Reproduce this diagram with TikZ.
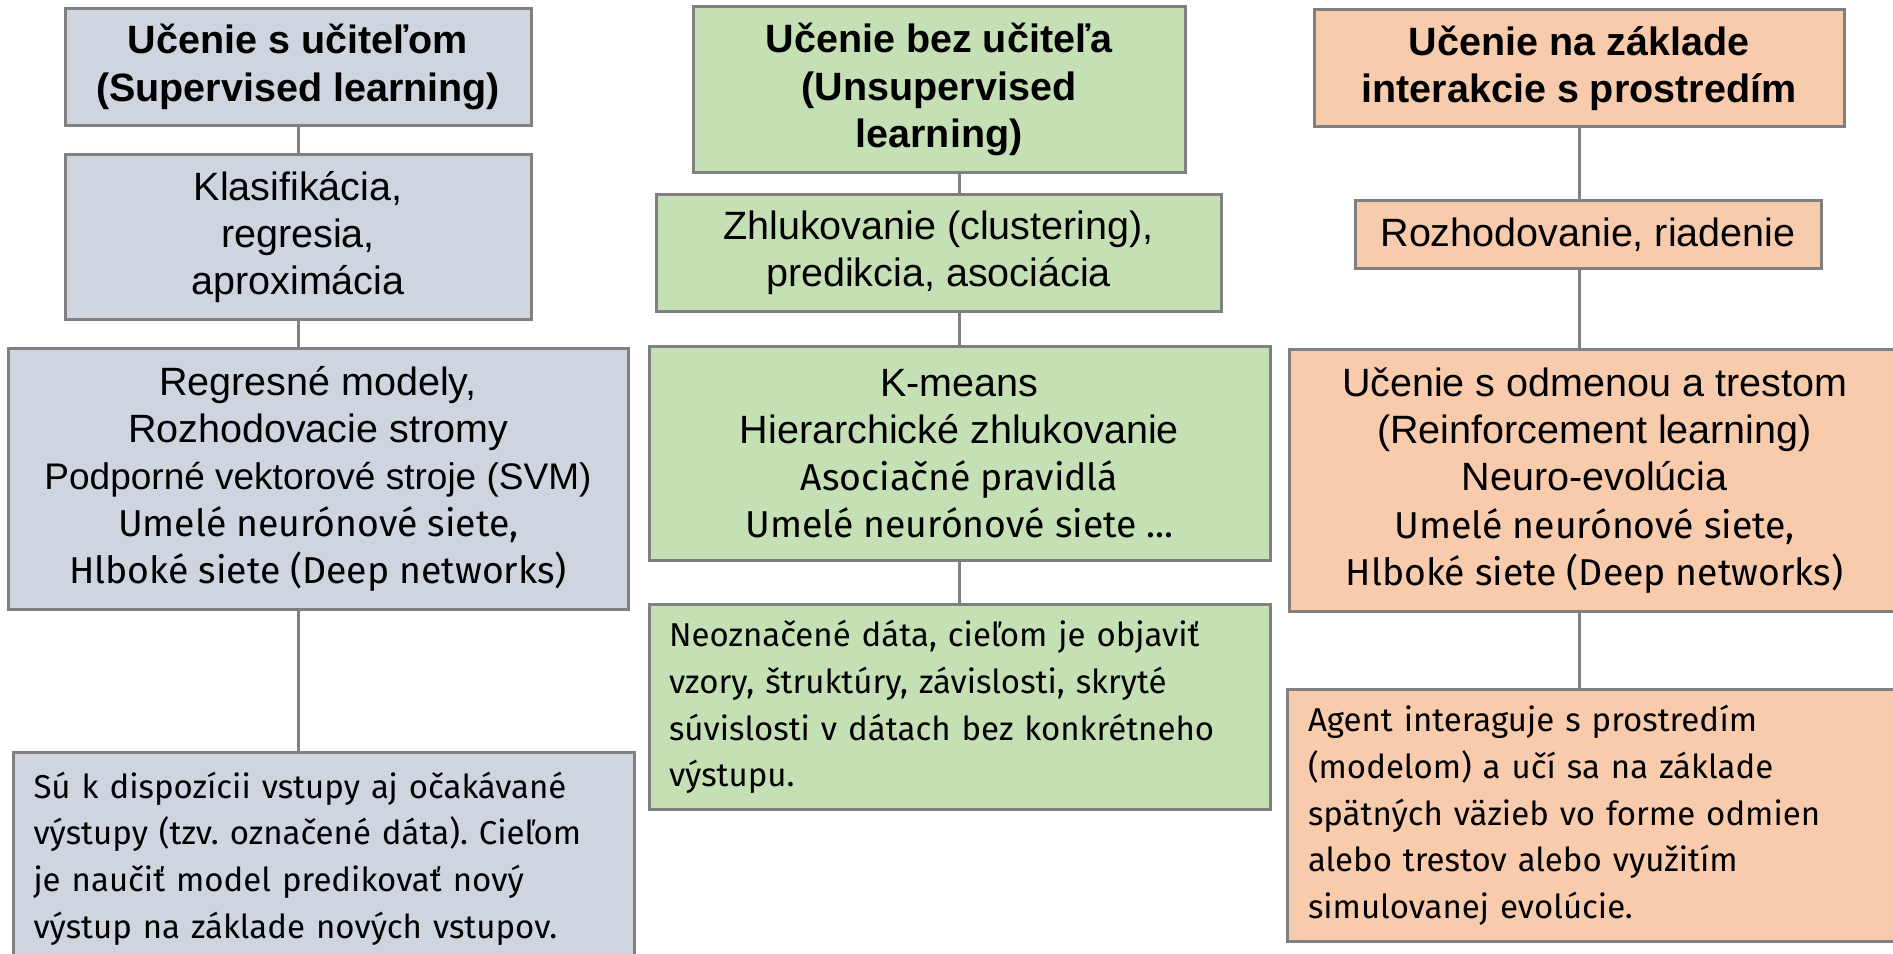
\documentclass[tikz,border=0pt]{standalone}
\usepackage{fontspec}
\setmainfont{Liberation Sans}
\newfontfamily\aptosfont{Fira Sans}
\usetikzlibrary{positioning}
\definecolor{supfill}{RGB}{206,213,223}
\definecolor{unsfill}{RGB}{197,224,180}
\definecolor{intfill}{RGB}{248,203,173}
\definecolor{linegray}{RGB}{128,128,128}
\newcommand{\svmsize}{\fontsize{18.5}{23.6}\selectfont}
\newcommand{\aptline}{\aptosfont\fontsize{18.7}{23.6}\selectfont}
\frenchspacing

\begin{document}
\begin{tikzpicture}[x=0.5pt, y=-0.5pt, font=\fontsize{19.75}{23.6}\selectfont,
  box/.style={rectangle, draw=linegray, line width=1.5pt, inner sep=0pt, align=center, anchor=north},
  headbox/.style={box, font=\fontsize{19.75}{23.6}\selectfont\bfseries},
  descbox/.style={box, align=left, font=\aptosfont\fontsize{16.5}{23.35}\selectfont},
  link/.style={draw=linegray, line width=1.5pt}]
  \useasboundingbox (0,0) rectangle (1893,953);

  % ucenie s ucitelom
  \node[headbox, fill=supfill, minimum width=233pt, minimum height=58.5pt] (sup) at (298,7) {Učenie s učiteľom\\(Supervised learning)};
  \node[box, fill=supfill, minimum width=233pt, minimum height=82.5pt] (supTask) at (298,153) {Klasifikácia,\\regresia,\\aproximácia};
  \node[box, fill=supfill, minimum width=310pt, minimum height=130.5pt] (supMethods) at (318,347) {Regresné modely,\\Rozhodovacie stromy\\{\svmsize Podporné vektorové stroje (SVM)}\\{\aptline Umelé neurónové siete,}\\{\aptline Hlboké siete (Deep networks)}};
  \node[descbox, fill=supfill, minimum width=310.5pt, minimum height=106pt, text width=290.5pt] (supDesc) at (324,751) {Sú k dispozícii vstupy aj očakávané\\\mbox{výstupy (tzv. označené dáta). Cieľom}\\je naučiť model predikovať nový\\výstup na základe nových vstupov.};

  % ucenie bez ucitela
  \node[headbox, fill=unsfill, minimum width=246pt, minimum height=83pt] (uns) at (939,5) {Učenie bez učiteľa\\(Unsupervised\\learning)};
  \node[box, fill=unsfill, minimum width=282.5pt, minimum height=58.5pt] (unsTask) at (938.5,193) {Zhlukovanie (clustering),\\predikcia, asociácia};
  \node[box, fill=unsfill, minimum width=310.5pt, minimum height=107pt] (unsMethods) at (959.5,345) {K-means\\Hierarchické zhlukovanie\\{\aptline Asociačné pravidlá}\\{\aptline Umelé neurónové siete ...}};
  \node[descbox, fill=unsfill, minimum width=310.5pt, minimum height=102.5pt, text width=290.5pt] (unsDesc) at (959.5,603) {Neoznačené dáta, cieľom je objaviť\\vzory, štruktúry, závislosti, skryté\\súvislosti v dátach bez konkrétneho\\výstupu.};

  % interakcia s prostredim
  \node[headbox, fill=intfill, minimum width=265pt, minimum height=58.5pt] (int) at (1579,8) {Učenie na základe\\interakcie s prostredím};
  \node[box, fill=intfill, minimum width=233pt, minimum height=34pt] (intTask) at (1588,199) {Rozhodovanie, riadenie};
  \node[box, fill=intfill, minimum width=305.5pt, minimum height=131pt] (intMethods) at (1594.5,348) {Učenie s odmenou a trestom\\(Reinforcement learning)\\Neuro-evolúcia\\{\aptline Umelé neurónové siete,}\\{\aptline Hlboké siete (Deep networks)}};
  \node[descbox, fill=intfill, minimum width=306.5pt, minimum height=126pt, text width=285.5pt] (intDesc) at (1593.5,688) {Agent interaguje s prostredím\\(modelom) a učí sa na základe\\spätných väzieb vo forme odmien\\alebo trestov alebo využitím\\simulovanej evolúcie.};

  % spojnice
  \draw[link] (sup.south) -- (sup.south |- supTask.north);
  \draw[link] (supTask.south) -- (sup.south |- supMethods.north);
  \draw[link] (sup.south |- supMethods.south) -- (sup.south |- supDesc.north);
  \draw[link] (unsMethods.north |- uns.south) -- (unsMethods.north |- unsTask.north);
  \draw[link] (unsMethods.north |- unsTask.south) -- (unsMethods.north);
  \draw[link] (unsMethods.south) -- (unsDesc.north);
  \draw[link] (int.south) -- (int.south |- intTask.north);
  \draw[link] (int.south |- intTask.south) -- (int.south |- intMethods.north);
  \draw[link] (int.south |- intMethods.south) -- (int.south |- intDesc.north);
\end{tikzpicture}
\end{document}
